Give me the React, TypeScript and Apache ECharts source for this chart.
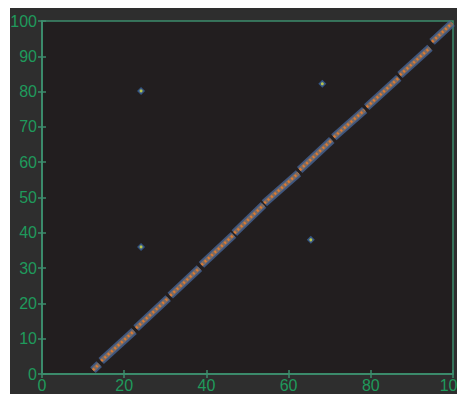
import React, { useEffect, useRef } from "react";
import * as echarts from "echarts";

// Diagonal segments: [x0, y0, x1, y1]
const segX0 = [12.4, 14.4, 22.9, 31.2, 38.8, 46.8, 54.1, 62.7, 71.0, 79.0, 87.1, 94.9];
const segY0 = [1.1, 3.7, 13.0, 22.2, 30.9, 39.9, 48.4, 57.8, 67.1, 75.6, 84.7, 94.1];
const segX1 = [13.9, 22.4, 30.7, 38.3, 46.6, 53.9, 62.4, 70.5, 78.5, 86.8, 94.4, 99.8];
const segY1 = [2.8, 12.2, 21.5, 30.0, 39.4, 47.9, 56.9, 66.3, 74.8, 83.9, 92.4, 99.4];

// Isolated points
const outlierX = [24.1, 24.1, 68.2, 65.4];
const outlierY = [80.2, 36.0, 82.2, 38.0];

const X_MIN = 0, X_MAX = 100, X_STEP = 20;
const Y_MIN = 0, Y_MAX = 100, Y_STEP = 10;

const FRAME = "#3d8c6c";
const LABEL = "#1f9a5c";
const FONT = "'Liberation Sans Narrow', 'Liberation Sans', Arial, sans-serif";

export default function App() {
  const ref = useRef<HTMLDivElement>(null);
  useEffect(() => {
    document.body.style.margin = "0";
    document.body.style.overflow = "hidden";
    if (!ref.current) return;
    const chart = echarts.init(ref.current, null, { renderer: "svg" });
    const segs = segX0.map((x, i) => [x, segY0[i], segX1[i], segY1[i]]);
    const outliers = outlierX.map((x, i) => [x, outlierY[i]]);
    const tickStyle = { show: true, inside: true, length: 4, lineStyle: { color: FRAME, width: 1.5 } };
    const lineStyle = { show: true, lineStyle: { color: FRAME, width: 1.5 } };
    chart.setOption({
      animation: false,
      backgroundColor: "#2e2e2e",
      grid: {
        left: 32, top: 13, right: 4, bottom: 20,
        outerBoundsMode: "none", containLabel: false,
        show: true, backgroundColor: "#221e1f", borderColor: FRAME, borderWidth: 1.5,
      },
      xAxis: [
        {
          type: "value", min: X_MIN, max: X_MAX, interval: X_STEP, position: "bottom",
          axisLine: lineStyle, axisTick: tickStyle, splitLine: { show: false },
          axisLabel: { color: LABEL, fontFamily: FONT, fontSize: 16, margin: 3, hideOverlap: false },
        },
        {
          type: "value", min: X_MIN, max: X_MAX, interval: X_STEP, position: "top",
          axisLine: lineStyle, axisTick: tickStyle, splitLine: { show: false },
          axisLabel: { show: false },
        },
      ],
      yAxis: [
        {
          type: "value", min: Y_MIN, max: Y_MAX, interval: Y_STEP, position: "left",
          axisLine: lineStyle, axisTick: tickStyle, splitLine: { show: false },
          axisLabel: { color: LABEL, fontFamily: FONT, fontSize: 16, margin: 5 },
        },
        {
          type: "value", min: Y_MIN, max: Y_MAX, interval: Y_STEP, position: "right",
          axisLine: lineStyle, axisTick: tickStyle, splitLine: { show: false },
          axisLabel: { show: false },
        },
      ],
      series: [
        {
          type: "custom",
          xAxisIndex: 0, yAxisIndex: 0,
          data: segs,
          encode: { x: [0, 2], y: [1, 3] },
          renderItem: (params: any, api: any) => {
            const p0 = api.coord([api.value(0), api.value(1)]);
            const p1 = api.coord([api.value(2), api.value(3)]);
            const shape = { x1: p0[0], y1: p0[1], x2: p1[0], y2: p1[1] };
            return {
              type: "group",
              children: [
                { type: "line", shape, style: { stroke: "rgba(70,100,150,0.8)", lineWidth: 8, lineCap: "butt" } },
                { type: "line", shape, style: { stroke: "#7a6c66", lineWidth: 4.5, lineCap: "butt" } },
                { type: "line", shape, style: { stroke: "#df7a30", lineWidth: 2.5, lineDash: [2, 2.5], lineCap: "butt" } },
              ],
            };
          },
        },
        {
          type: "scatter", xAxisIndex: 0, yAxisIndex: 0,
          data: outliers, symbol: "diamond", symbolSize: 8,
          itemStyle: { color: "rgba(60,110,180,0.85)" },
        },
        {
          type: "scatter", xAxisIndex: 0, yAxisIndex: 0,
          data: outliers, symbol: "circle", symbolSize: 3,
          itemStyle: { color: "#d8e040" },
        },
      ],
    });
    return () => chart.dispose();
  }, []);
  return (
    <div style={{ position: "relative", width: 457, height: 394, background: "#fff" }}>
      <div ref={ref} style={{ position: "absolute", left: 10, top: 8, width: 447, height: 386 }} />
    </div>
  );
}
